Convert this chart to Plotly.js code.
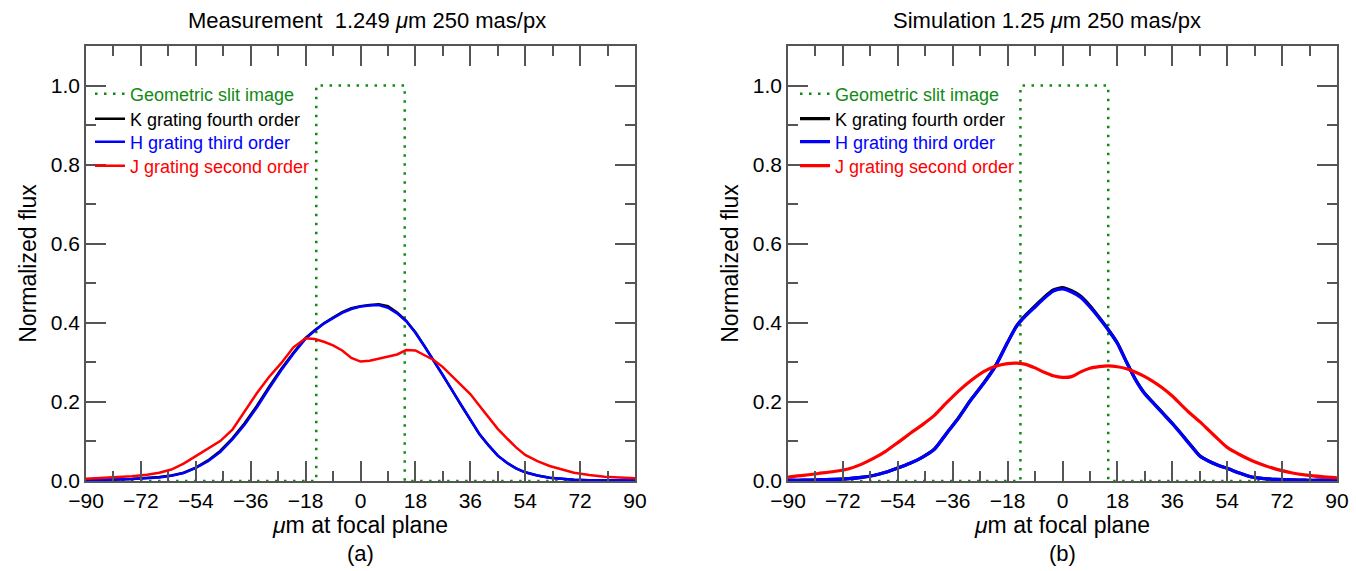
<!DOCTYPE html>
<html><head><meta charset="utf-8">
<script src="https://cdn.plot.ly/plotly-3.0.1.min.js"></script>
<style>html,body{margin:0;padding:0;background:#fff}#chart{width:1356px;height:571px}</style>
</head><body><div id="chart"></div>
<script>
// ---- data ----
const posX = [-90,-85,-80,-75,-70,-66,-62,-58,-54,-50,-46,-42,-38,-34,-30,-26,-22,-18,-15,-12,-9,-6,-3,0,3,6,9,12,15,18,21,24,27,30,33,36,39,42,45,48,51,54,58,62,66,70,75,80,85,90];

// (a) Measurement 1.249 um
const measK = [0.003,0.003,0.004,0.005,0.007,0.010,0.014,0.021,0.034,0.052,0.076,0.108,0.146,0.190,0.238,0.283,0.324,0.362,0.381,0.399,0.413,0.427,0.437,0.442,0.445,0.447,0.442,0.426,0.405,0.376,0.341,0.305,0.268,0.230,0.191,0.154,0.118,0.090,0.064,0.046,0.032,0.022,0.014,0.008,0.005,0.003,0.002,0.002,0.002,0.002];
const measH = [0.003,0.003,0.004,0.005,0.007,0.009,0.013,0.020,0.033,0.050,0.073,0.105,0.142,0.186,0.234,0.280,0.322,0.360,0.380,0.398,0.412,0.425,0.435,0.441,0.444,0.445,0.438,0.424,0.404,0.375,0.340,0.305,0.268,0.230,0.192,0.155,0.119,0.090,0.064,0.046,0.032,0.022,0.014,0.008,0.005,0.003,0.002,0.002,0.002,0.002];
const measJ = [0.006,0.008,0.010,0.012,0.016,0.021,0.029,0.044,0.063,0.081,0.101,0.130,0.175,0.222,0.263,0.298,0.338,0.361,0.359,0.352,0.343,0.330,0.311,0.302,0.304,0.309,0.314,0.320,0.331,0.330,0.318,0.306,0.288,0.265,0.243,0.220,0.190,0.160,0.132,0.108,0.085,0.066,0.050,0.038,0.029,0.021,0.015,0.011,0.009,0.007];

// (b) Simulation 1.25 um
const simK = [0.002,0.002,0.003,0.004,0.006,0.009,0.014,0.022,0.033,0.045,0.060,0.081,0.121,0.161,0.206,0.246,0.291,0.351,0.393,0.420,0.443,0.465,0.483,0.489,0.481,0.467,0.443,0.414,0.383,0.349,0.301,0.256,0.221,0.196,0.171,0.146,0.119,0.091,0.064,0.050,0.040,0.032,0.020,0.010,0.006,0.004,0.003,0.002,0.002,0.002];
const simH = [0.002,0.002,0.003,0.004,0.006,0.009,0.014,0.022,0.033,0.045,0.060,0.080,0.120,0.160,0.205,0.245,0.290,0.350,0.392,0.418,0.440,0.462,0.480,0.486,0.478,0.464,0.440,0.412,0.382,0.348,0.300,0.255,0.220,0.195,0.170,0.145,0.118,0.090,0.063,0.050,0.040,0.032,0.020,0.010,0.006,0.004,0.003,0.002,0.002,0.002];
const simJ = [0.010,0.014,0.019,0.024,0.031,0.042,0.057,0.075,0.097,0.120,0.142,0.166,0.198,0.228,0.254,0.276,0.290,0.297,0.298,0.295,0.286,0.275,0.266,0.262,0.264,0.276,0.285,0.289,0.291,0.289,0.284,0.275,0.264,0.250,0.234,0.215,0.192,0.170,0.150,0.128,0.106,0.085,0.067,0.052,0.040,0.030,0.021,0.015,0.011,0.008];

// geometric slit images
const slitMeasX = [-90,-14.5,-14.5,14.5,14.5,90];
const slitSimX  = [-90,-13.8,-13.8,15.0,15.0,90];
const slitY     = [0,0,1,1,0,0];

const names = ['Geometric slit image','K grating fourth order','H grating third order','J grating second order'];
const colors = ['#138a13','#000000','#0000ff','#ff0000'];
const panelTitles = ['Measurement\u00a0 1.249 <i>μ</i>m 250 mas/px','Simulation 1.25 <i>μ</i>m 250 mas/px'];
const panelLabels = ['(a)','(b)'];

// ---- layout geometry ----
const W = 1356, H = 571;
const FONT = 'Liberation Sans, Arial, Helvetica, sans-serif';
const px2x = p => p / W;
const px2y = p => 1 - p / H;
const dom = [[86, 635], [788, 1337]];
const yDom = [px2y(481), px2y(46)];
const titleX = [367, 1047];

const traces = [];
const lw = [2.5, 3.2];
const sets = [
  {sx: slitMeasX, k: measK, h: measH, j: measJ},
  {sx: slitSimX,  k: simK,  h: simH,  j: simJ}
];
sets.forEach((s, i) => {
  const xa = i === 0 ? 'x' : 'x2', ya = i === 0 ? 'y' : 'y2';
  const ys = [slitY, s.k, s.h, s.j];
  const xsArr = [s.sx, posX, posX, posX];
  for (let t = 0; t < 4; t++) {
    const n = i * 4 + t;
    const legendId = 'legend' + (n === 0 ? '' : (n + 1));
    traces.push({
      type: 'scatter', mode: 'lines', x: xsArr[t], y: ys[t],
      xaxis: xa, yaxis: ya, name: names[t], legend: legendId, showlegend: true,
      line: t === 0 ? {color: colors[0], width: 2.5, dash: '2.5px,6.5px'}
                    : {color: colors[t], width: lw[i], shape: i === 1 ? 'spline' : 'linear', smoothing: 0.6},
      hoverinfo: 'x+y'
    });
  }
});

function xaxis(d, anchor) {
  return {
    domain: [px2x(d[0]), px2x(d[1])], anchor: anchor, range: [-90, 90],
    tickmode: 'linear', tick0: 0, dtick: 18,
    ticks: 'inside', ticklen: 20, tickwidth: 1.5, tickcolor: '#555',
    showline: true, linecolor: '#555', linewidth: 1.5, mirror: 'ticks',
    showgrid: false, zeroline: false, automargin: false,
    minor: {ticks: 'inside', ticklen: 10, tickwidth: 1.5, tickcolor: '#555', tickmode: 'linear', tick0: 0, dtick: 9, showgrid: false},
    tickfont: {family: FONT, size: 21, color: '#000'},
    title: {text: '<i>μ</i>m at focal plane', font: {family: FONT, size: 23, color: '#000'}, standoff: 2}
  };
}
function yaxis(anchor) {
  return {
    domain: yDom, anchor: anchor, range: [0, 1.1],
    tickmode: 'linear', tick0: 0, dtick: 0.2, tickformat: '.1f',
    ticks: 'inside', ticklen: 20, tickwidth: 1.5, tickcolor: '#555',
    showline: true, linecolor: '#555', linewidth: 1.5, mirror: 'ticks',
    showgrid: false, zeroline: false, automargin: false,
    minor: {ticks: 'inside', ticklen: 10, tickwidth: 1.5, tickcolor: '#555', tickmode: 'linear', tick0: 0, dtick: 0.1, showgrid: false},
    tickfont: {family: FONT, size: 21, color: '#000'},
    title: {text: 'Normalized flux', font: {family: FONT, size: 23, color: '#000'}, standoff: 8}
  };
}

const layout = {
  width: W, height: H, margin: {l: 0, r: 0, t: 0, b: 0},
  paper_bgcolor: '#fff', plot_bgcolor: '#fff', showlegend: true,
  font: {family: FONT, size: 18, color: '#000'},
  xaxis: xaxis(dom[0], 'y'), yaxis: yaxis('x'),
  xaxis2: xaxis(dom[1], 'y2'), yaxis2: yaxis('x2'),
  annotations: []
};

// legends, one per entry so that row spacing can match the reference
const rowY = [94, 119, 142, 166];
const legLeft = [90, 795];
for (let i = 0; i < 2; i++) {
  for (let t = 0; t < 4; t++) {
    const n = i * 4 + t;
    const key = 'legend' + (n === 0 ? '' : (n + 1));
    layout[key] = {
      visible: true,
      x: px2x(legLeft[i]), xanchor: 'left', y: px2y(rowY[t]), yanchor: 'middle',
      bgcolor: 'rgba(0,0,0,0)', borderwidth: 0, itemwidth: 30,
      font: {family: FONT, size: 18, color: colors[t]}
    };
  }
}

// panel titles and labels
for (let i = 0; i < 2; i++) {
  const cx = (dom[i][0] + dom[i][1]) / 2;
  layout.annotations.push({
    xref: 'paper', yref: 'paper', x: px2x(titleX[i]), y: px2y(20), xanchor: 'center', yanchor: 'middle',
    text: panelTitles[i], showarrow: false, font: {family: FONT, size: 22, color: '#000'}
  });
  layout.annotations.push({
    xref: 'paper', yref: 'paper', x: px2x(cx), y: px2y(553), xanchor: 'center', yanchor: 'middle',
    text: panelLabels[i], showarrow: false, font: {family: FONT, size: 22, color: '#000'}
  });
}

Plotly.newPlot('chart', traces, layout, {displayModeBar: false, responsive: false});
</script>
</body></html>
